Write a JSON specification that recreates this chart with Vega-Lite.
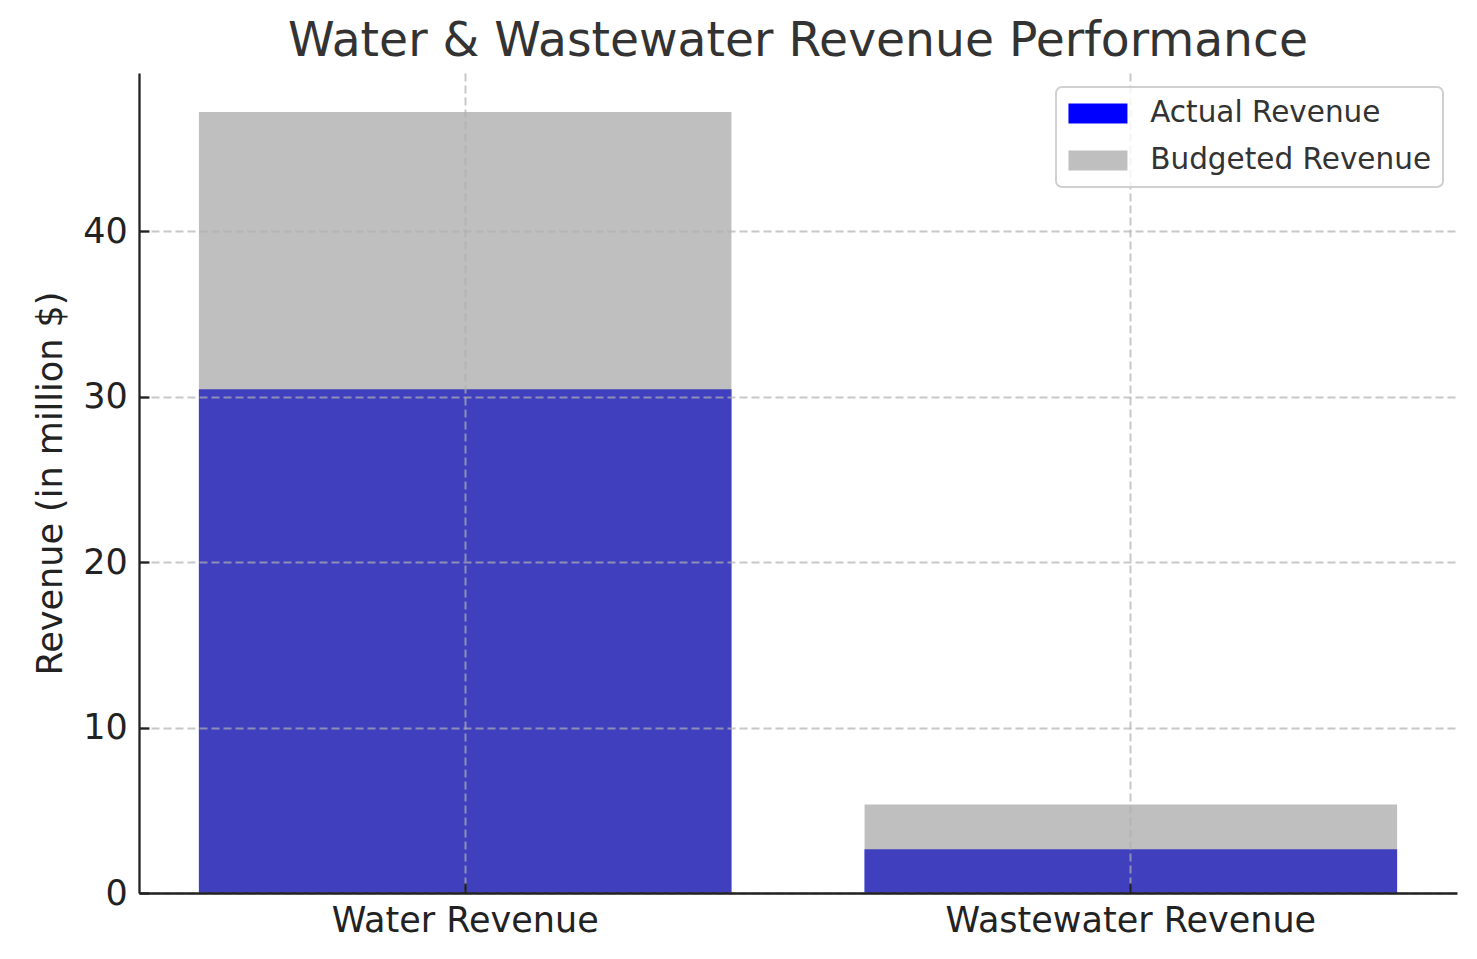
{
  "$schema": "https://vega.github.io/schema/vega-lite/v6.json",
  "width": 1318,
  "height": 820,
  "autosize": {"type": "none"},
  "padding": {"left": 139, "top": 73, "right": 20, "bottom": 66},
  "background": "white",
  "title": {
    "text": "Water & Wastewater Revenue Performance",
    "fontSize": 47.2,
    "fontWeight": "normal",
    "color": "#333333",
    "anchor": "middle",
    "frame": "group",
    "baseline": "alphabetic",
    "offset": -30,
    "limit": 0
  },
  "config": {
    "font": "DejaVu Sans",
    "view": {"stroke": null},
    "axis": {
      "labelFontSize": 35,
      "labelColor": "#222222",
      "labelLimit": 0,
      "titleFontSize": 35,
      "titleFontWeight": "normal",
      "titleColor": "#222222",
      "tickSize": -10,
      "tickWidth": 2.3,
      "tickColor": "#222222",
      "domainColor": "#222222",
      "domainWidth": 2.3,
      "grid": true,
      "gridColor": "#b0b0b0",
      "gridOpacity": 0.7,
      "gridDash": [8, 4],
      "gridWidth": 2
    },
    "legend": {
      "orient": "none",
      "legendX": 917,
      "legendY": 14,
      "title": null,
      "labelFontSize": 29.5,
      "labelColor": "#333333",
      "labelLimit": 0,
      "symbolType": "M-1.4,-1H4.5V1H-1.4Z",
      "symbolSize": 400,
      "symbolStrokeWidth": 0,
      "labelOffset": 53,
      "padding": 11.7,
      "rowPadding": 16,
      "strokeColor": "#d0d0d0",
      "strokeWidth": 2,
      "cornerRadius": 6,
      "fillColor": "rgba(255,255,255,0.8)",
      "zindex": 2
    }
  },
  "data": {
    "values": [
      {"category": "Water Revenue", "series": "Actual Revenue", "value": 30.45},
      {"category": "Wastewater Revenue", "series": "Actual Revenue", "value": 2.65},
      {"category": "Water Revenue", "series": "Budgeted Revenue", "value": 47.2},
      {"category": "Wastewater Revenue", "series": "Budgeted Revenue", "value": 5.35}
    ]
  },
  "encoding": {
    "x": {
      "field": "category",
      "type": "nominal",
      "sort": ["Water Revenue", "Wastewater Revenue"],
      "scale": {"paddingInner": 0.2, "paddingOuter": 0.09},
      "axis": {"title": null, "labelAngle": 0, "labelPadding": 20, "bandPosition": 0.5, "zindex": 1}
    },
    "y": {
      "field": "value",
      "type": "quantitative",
      "stack": null,
      "scale": {"domain": [0, 49.56], "nice": false},
      "axis": {"title": "Revenue (in million $)", "values": [0, 10, 20, 30, 40], "labelPadding": 21.7, "titlePadding": 14, "zindex": 1}
    },
    "color": {
      "field": "series",
      "type": "nominal",
      "scale": {"domain": ["Actual Revenue", "Budgeted Revenue"], "range": ["#0000FF", "#808080"]}
    },
    "opacity": {
      "field": "series",
      "type": "nominal",
      "scale": {"domain": ["Actual Revenue", "Budgeted Revenue"], "range": [1, 0.5]}
    }
  },
  "layer": [
    {"transform": [{"filter": "datum.series === 'Actual Revenue'"}], "mark": {"type": "bar"}},
    {"transform": [{"filter": "datum.series === 'Budgeted Revenue'"}], "mark": {"type": "bar"}}
  ]
}
